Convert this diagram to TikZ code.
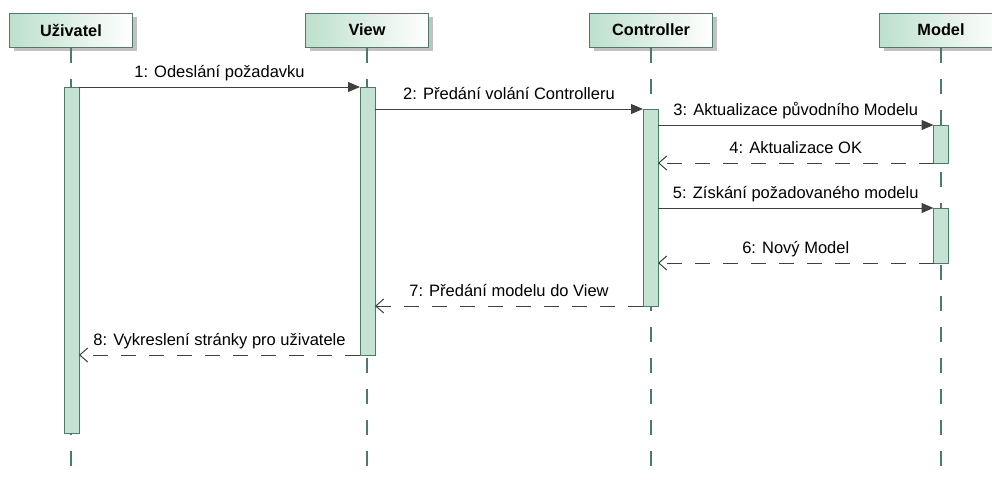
\documentclass[tikz,border=0pt]{standalone}
\usepackage{fontspec}
\setmainfont{Liberation Sans}
\usepackage{tikz}
\usetikzlibrary{arrows.meta,shadows}
\definecolor{lineg}{HTML}{4C7C68}
\definecolor{actg}{HTML}{C4E3D3}
\definecolor{headg}{HTML}{BDE0CC}
\definecolor{msgc}{HTML}{404040}
\definecolor{shadowc}{HTML}{C2C2C2}

\begin{document}
\begin{tikzpicture}[x=1pt,y=-1pt,>=Stealth,
  every node/.style={font=\fontsize{16.5}{19}\selectfont},
  headbox/.style={draw=lineg,line width=1pt,left color=headg,right color=white,minimum width=123pt,minimum height=34pt,inner sep=0pt,
    font=\fontsize{16.3}{19}\selectfont\bfseries,drop shadow={shadow xshift=4pt,shadow yshift=-4pt,fill=shadowc,opacity=1}},
  actbar/.style={draw=lineg,line width=1pt,fill=actg,minimum width=15pt,inner sep=0pt,outer sep=0pt},
  lifeline/.style={draw=lineg,line width=1.2pt,dash pattern=on 15pt off 16pt},
  call/.style={draw=msgc,line width=1pt,-{Triangle[length=12pt,width=10pt]}},
  reply/.style={draw=msgc,line width=1pt,dash pattern=on 15pt off 13pt,-{Straight Barb[length=8pt,width=14pt]}},
  lbl/.style={above=9pt,inner sep=0pt,text depth=0pt,text=black}]
  \useasboundingbox[fill=white] (0,0) rectangle (992,482);
  \node[headbox] (usr) at (71,30) {Uživatel};
  \node[headbox] (view) at (367,30) {View};
  \node[headbox] (ctrl) at (651,30) {Controller};
  \node[headbox] (model) at (941,30) {Model};
  \coordinate (bot) at (0,468);
  \foreach \n in {usr,view,ctrl,model} {\draw[lifeline] (\n.south) -- (\n.south |- bot);}
  \node[actbar,minimum height=346pt] (a1) at (71.5,260) {};
  \node[actbar,minimum height=268pt] (a2) at (367.5,221) {};
  \node[actbar,minimum height=197pt] (a3) at (650.5,207.5) {};
  \node[actbar,minimum height=38pt] (a4) at (941,144) {};
  \node[actbar,minimum height=55pt] (a5) at (941,235.5) {};
  \draw[call] (a1.north east) -- (a2.north west) node[lbl,midway] {1: Odeslání požadavku};
  \draw[call] (a2.east |- a3.north) -- (a3.north west) node[lbl,midway] {2: Předání volání Controlleru};
  \draw[call] (a3.east |- a4.north) -- (a4.north west) node[lbl,midway] {3: Aktualizace původního Modelu};
  \draw[reply] (a4.south west) -- (a3.east |- a4.south) node[lbl,midway] {4: Aktualizace OK};
  \draw[call] (a3.east |- a5.north) -- (a5.north west) node[lbl,midway] {5: Získání požadovaného modelu};
  \draw[reply] (a5.south west) -- (a3.east |- a5.south) node[lbl,midway] {6: Nový Model};
  \draw[reply] (a3.south west) -- (a2.east |- a3.south) node[lbl,midway] {7: Předání modelu do View};
  \draw[reply] (a2.south west) -- (a1.east |- a2.south) node[lbl,midway] {8: Vykreslení stránky pro uživatele};
\end{tikzpicture}
\end{document}
